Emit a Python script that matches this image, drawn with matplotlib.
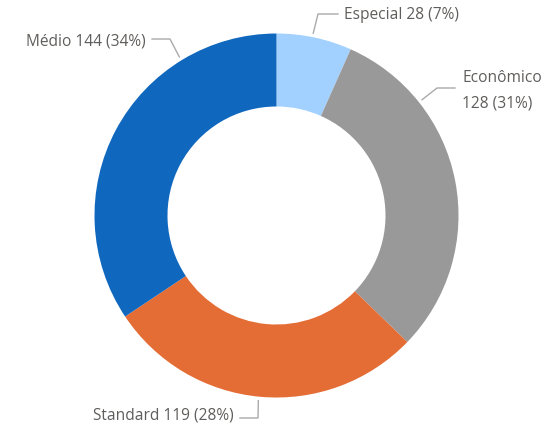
import numpy as np
import matplotlib.pyplot as plt

labels = ["Especial", "Econômico", "Standard", "Médio"]
values = [28, 128, 119, 144]
colors = ["#A3D1FF", "#999999", "#E46C35", "#1068BE"]

total = sum(values)
pcts = [round(v / total * 100) for v in values]

W, H = 549, 432
fig = plt.figure(figsize=(W / 100, H / 100), dpi=100)
ax = fig.add_axes([0, 0, 1, 1])

cx, cy, R = 276.5, H - 215.5, 182
ax.pie(values, colors=colors, startangle=90, counterclock=False,
       center=(cx, cy), radius=R,
       wedgeprops=dict(width=73, linewidth=0))
ax.set_xlim(0, W)
ax.set_ylim(0, H)
ax.set_aspect("equal")
ax.axis("off")

# leader layout: angle on the ring, elbow point, end of the horizontal stub (pixels from top-left)
layout = [
    dict(ang=78.6, elbow=(318, 14), end=(338, 14), text=(344, 15), ha="left"),
    dict(ang=38.5, elbow=(437, 88), end=(455, 88), text=(462, 90), ha="left"),
    dict(ang=264.4, elbow=(258, 418), end=(240, 418), text=(234, 415), ha="right"),
    dict(ang=121.5, elbow=(170, 39), end=(152, 39), text=(146, 41), ha="right"),
]

txt = dict(color="#605E5C", fontsize=11.2, family="Open Sans")
for lab, v, p, lay in zip(labels, values, pcts, layout):
    a = np.radians(lay["ang"])
    x0, y0 = cx + (R + 4) * np.cos(a), cy + (R + 4) * np.sin(a)
    ex, ey = lay["elbow"]
    sx, sy = lay["end"]
    ax.plot([x0, ex, sx], [y0, H - ey, H - sy], color="#AAAAAA", lw=1)
    tx, ty = lay["text"]
    if lab == "Econômico":
        ax.text(tx, H - (ty - 12), lab, ha="left", va="center", **txt)
        ax.text(tx, H - (ty + 13), f"{v} ({p}%)", ha="left", va="center", **txt)
    else:
        ax.text(tx, H - ty, f"{lab} {v} ({p}%)", ha=lay["ha"], va="center", **txt)

fig.savefig("out.png", dpi=100)
